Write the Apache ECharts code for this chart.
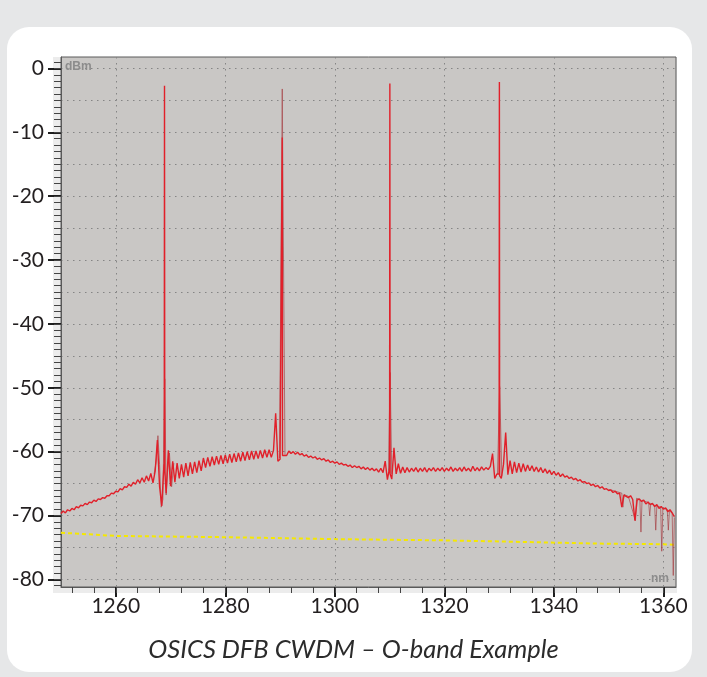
<!DOCTYPE html>
<html>
<head>
<meta charset="utf-8">
<script src="https://cdn.jsdelivr.net/npm/echarts@6/dist/echarts.min.js"></script>
<style>
html,body{margin:0;padding:0;background:#e6e7e8;}
#chart{width:707px;height:677px;}
</style>
</head>
<body>
<div id="chart"></div>
<script>
// ---- data ----
const titleText = 'OSICS DFB CWDM – O-band Example';
const xMajorTicks = [1260, 1280, 1300, 1320, 1340, 1360];
const xMinorTicks = [1252,1256,1260,1264,1268,1272,1276,1280,1284,1288,1292,1296,1300,1304,1308,1312,1316,1320,1324,1328,1332,1336,1340,1344,1348,1352,1356,1360];
const yMajorTicks = [0, -10, -20, -30, -40, -50, -60, -70, -80];
const yGridLines = [0,-5,-10,-15,-20,-25,-30,-35,-40,-45,-50,-55,-60,-65,-70,-75,-80];
const yMinorTicks = [1,0,-1,-2,-3,-4,-5,-6,-7,-8,-9,-10,-11,-12,-13,-14,-15,-16,-17,-18,-19,-20,-21,-22,-23,-24,-25,-26,-27,-28,-29,-30,-31,-32,-33,-34,-35,-36,-37,-38,-39,-40,-41,-42,-43,-44,-45,-46,-47,-48,-49,-50,-51,-52,-53,-54,-55,-56,-57,-58,-59,-60,-61,-62,-63,-64,-65,-66,-67,-68,-69,-70,-71,-72,-73,-74,-75,-76,-77,-78,-79,-80,-81];

// spectrum sampled every 0.4 nm starting at 1250 nm (dBm)
const specStart = 1250;
const specStep = 0.4;
const specA = [
-69.7,-69.3,-69.6,-69.1,-69.3,
-68.9,-69.1,-68.6,-68.8,-68.4,
-68.5,-68.1,-68.3,-67.9,-68.0,
-67.6,-67.8,-67.4,-67.5,-67.2,
-67.3,-66.9,-66.9,-66.5,-66.6,
-66.2,-66.3,-65.8,-66.0,-65.5,
-65.6,-65.1,-65.4,-64.8,-65.1,
-64.4,-64.9,-64.1,-64.8,-63.8,
-64.6,-63.4,-64.9,-63.0,-58.2,
-65.5,-68.5,-62.0,-66.5,-59.8,
-65.4,-61.5,-64.8,-61.8,-64.2,
-62.0,-64.0,-61.8,-63.8,-61.7,
-63.5,-61.6,-63.3,-61.4,-63.0,
-61.0,-62.5,-60.9,-62.3,-60.8,
-62.1,-60.7,-62.0,-60.6,-61.9,
-60.5,-61.8,-60.4,-61.7,-60.3,
-61.6,-60.2,-61.5,-60.1,-61.4,
-60.0,-61.3,-59.9,-61.2,-59.9,
-61.1,-59.8,-61.0,-59.7,-60.9,
-59.7,-60.9,-59.8,-54.0,-61.5,
-61.2,-60.8,-60.3,-60.6,-59.9,
-60.3,-60.0,-60.4,-60.1,-60.5,
-60.3,-60.7,-60.5,-60.9,-60.7,
-61.0,-60.8,-61.2,-61.0,-61.3,
-61.1,-61.5,-61.3,-61.7,-61.5,
-61.8,-61.6,-62.0,-61.8,-62.1,
-62.0,-62.3,-62.1,-62.5,-62.2,
-62.5,-62.3,-62.7,-62.4,-62.8,
-62.5,-62.9,-62.6,-63.0,-62.7,
-63.2,-62.6,-63.3,-61.5,-64.4,
-62.5,-64.3,-59.4,-63.5,-61.9,
-63.4,-62.4,-63.3,-62.5,-63.2,
-62.6,-63.1,-62.5,-63.2,-62.6,
-63.1,-62.5,-63.2,-62.6,-63.0,
-62.5,-63.1,-62.6,-63.0,-62.5,
-63.1,-62.6,-63.0,-62.4,-63.1,
-62.6,-63.0,-62.5,-63.1,-62.4,
-63.0,-62.6,-63.1,-62.3,-63.0,
-62.5,-63.0,-62.4,-62.9,-62.5,
-62.8,-62.3,-60.3,-64.2,-63.5,
-63.5,-64.2,-62.0,-57.0,-63.6,
-61.4,-63.5,-61.6,-63.3,-61.8,
-63.2,-61.9,-63.1,-62.1,-63.0,
-62.2,-63.1,-62.4,-63.2,-62.5,
-63.3,-62.7,-63.4,-62.9,-63.6,
-63.1,-63.7,-63.3,-63.9,-63.5,
-64.0,-63.8,-64.2,-64.0,-64.4,
-64.2,-64.6,-64.4,-64.8,-64.7,
-65.0,-64.9,-65.3,-65.1,-65.5,
-65.3,-65.7,-65.5,-65.9,-65.8,
-66.1,-66.0,-66.4,-66.2,-66.6,
-66.5,-68.7,-66.8,-67.0,-67.2,
-66.9,-67.5,-70.8,-67.6,-67.4,
-67.8,-67.6,-68.2,-67.9,-68.3,
-68.1,-68.6,-68.3,-68.9,-68.6,
-69.0,-68.8,-69.4,-69.1,-69.6,
-70.2
];
// laser lines of trace A [nm, dBm]
const peaksA = [
  [1268.85,-62.5],[1268.9,-2.7],[1268.95,-63.0],
  [1290.35,-60.9],[1290.4,-10.8],[1290.45,-60.6],
  [1310.0,-62.8],[1310.05,-2.35],[1310.1,-63.5],
  [1330.0,-63.6],[1330.05,-2.1],[1330.1,-63.8]
];
// second (darker, lighter-weight) trace, where it departs from trace A
const traceB1 = [[1267.0,-63.5],[1267.4,-61.5],[1267.7,-57.5],[1268.0,-62.0],[1268.3,-68.7],[1268.6,-67.5],[1268.95,-48.6],[1269.2,-66.8],[1269.5,-62.5],[1269.8,-60.2],[1270.2,-65.5],[1270.6,-61.8]];
const traceB2 = [[1289.9,-61.0],[1290.4,-3.2],[1290.9,-60.5]];
const traceB3 = [[1309.8,-63.0],[1310.1,-47.6],[1310.4,-63.5]];
const traceB4 = [[1329.7,-63.5],[1330.1,-49.8],[1330.5,-63.8]];
const traceB5 = [[1350.0,-65.9],[1352.4,-66.5],[1352.6,-68.7],[1352.8,-66.7],[1353.6,-67.0],[1354.9,-70.8],[1355.1,-67.3],[1355.7,-67.5],[1355.9,-72.6],[1356.1,-67.6],[1357.3,-68.0],[1357.5,-70.0],[1357.7,-68.1],[1358.4,-68.4],[1358.6,-72.3],[1358.8,-68.5],[1359.5,-68.7],[1359.7,-75.6],[1359.9,-68.9],[1360.7,-69.0],[1360.9,-72.3],[1361.1,-69.3],[1361.6,-69.6],[1361.8,-79.4],[1362.0,-70.3]];
// noise floor reference (yellow dashed)
const floorX = [1250, 1260, 1280, 1300, 1320, 1332, 1348, 1360, 1362.3];
const floorY = [-72.7, -73.2, -73.4, -73.7, -73.9, -74.1, -74.4, -74.5, -74.6];

// ---- build ----
const traceA = specA.map((v, i) => [+(specStart + i * specStep).toFixed(2), v])
  .concat(peaksA)
  .sort((a, b) => a[0] - b[0]);
const floorData = floorX.map((x, i) => [x, floorY[i]]);

const X_MIN = 1250, X_MAX = 1362.3, Y_MIN = -81.2, Y_MAX = 1.8;
const FONT = 'Lato, "Noto Sans", sans-serif';
const plain = v => String(v);

const chart = echarts.init(document.getElementById('chart'));
const lightStyle = { color: 'rgba(165,60,65,0.65)', width: 1 };
const gridLine = { color: '#858585', type: [1.5, 4.5], width: 1 };
chart.setOption({
  animation: false,
  backgroundColor: '#e6e7e8',
  title: {
    text: titleText, left: 'center', top: 632,
    textStyle: { fontFamily: FONT, fontSize: 25.5, fontStyle: 'italic', fontWeight: 'normal', color: '#2b2b2b' }
  },
  graphic: [
    { type: 'rect', z: -30, shape: { x: 7, y: 27, width: 685, height: 645, r: 22 }, style: { fill: '#ffffff' } },
    { type: 'rect', z: -20, shape: { x: 53, y: 57, width: 624, height: 536 }, style: { fill: '#ececec' } },
    { type: 'text', z: 10, left: 65, top: 61, style: { text: 'dBm', font: 'bold 12px "Liberation Sans", Arial, sans-serif', fill: '#8c8c8c' } },
    { type: 'text', z: 10, left: 651, top: 573, style: { text: 'nm', font: 'bold 12px "Liberation Sans", Arial, sans-serif', fill: '#8c8c8c' } }
  ],
  grid: { left: 61, top: 57, width: 615, height: 530, show: true, backgroundColor: '#c9c7c5', borderColor: '#5a5a5a', borderWidth: 1 },
  xAxis: [
    {
      type: 'value', min: X_MIN, max: X_MAX, position: 'bottom',
      axisLine: { show: true, onZero: false, lineStyle: { color: '#5a5a5a', width: 1 } },
      axisTick: { show: true, customValues: xMajorTicks, length: 10, lineStyle: { color: '#1e1e1e', width: 2 } },
      axisLabel: { show: true, customValues: xMajorTicks, formatter: plain, fontFamily: FONT, fontSize: 21, color: '#231f20', margin: 9 },
      splitLine: { show: true, lineStyle: gridLine }
    },
    {
      type: 'value', min: X_MIN, max: X_MAX, position: 'bottom',
      axisLine: { show: false, onZero: false },
      axisTick: { show: true, customValues: xMinorTicks, length: 6, lineStyle: { color: '#444', width: 1 } },
      axisLabel: { show: false },
      splitLine: { show: false }
    }
  ],
  yAxis: [
    {
      type: 'value', min: Y_MIN, max: Y_MAX, position: 'left',
      axisLine: { show: true, onZero: false, lineStyle: { color: '#5a5a5a', width: 1 } },
      axisTick: { show: true, customValues: yMajorTicks, length: 13, lineStyle: { color: '#1e1e1e', width: 2 } },
      axisLabel: { show: true, customValues: yMajorTicks, formatter: plain, fontFamily: FONT, fontSize: 21, color: '#231f20', margin: 17 },
      splitLine: { show: false }
    },
    {
      type: 'value', min: Y_MIN, max: Y_MAX, position: 'left',
      axisLine: { show: false, onZero: false },
      axisTick: { show: true, customValues: yMinorTicks, length: 7, lineStyle: { color: '#444', width: 1 } },
      axisLabel: { show: false },
      splitLine: { show: false }
    },
    {
      type: 'value', min: Y_MIN, max: Y_MAX, position: 'left',
      axisLine: { show: false, onZero: false },
      axisTick: { show: false, customValues: yGridLines },
      axisLabel: { show: false },
      splitLine: { show: true, lineStyle: gridLine }
    }
  ],
  series: [
    { type: 'line', data: floorData, symbol: 'none', z: 2, lineStyle: { color: '#f5e800', width: 2, type: [4, 3] } },
    { type: 'line', data: traceB1, symbol: 'none', z: 3, lineStyle: lightStyle },
    { type: 'line', data: traceB2, symbol: 'none', z: 3, lineStyle: lightStyle },
    { type: 'line', data: traceB3, symbol: 'none', z: 3, lineStyle: lightStyle },
    { type: 'line', data: traceB4, symbol: 'none', z: 3, lineStyle: lightStyle },
    { type: 'line', data: traceB5, symbol: 'none', z: 3, lineStyle: lightStyle },
    { type: 'line', data: traceA, symbol: 'none', z: 4, sampling: null, lineStyle: { color: '#e1202a', width: 1.4 } }
  ]
});
</script>
</body>
</html>
